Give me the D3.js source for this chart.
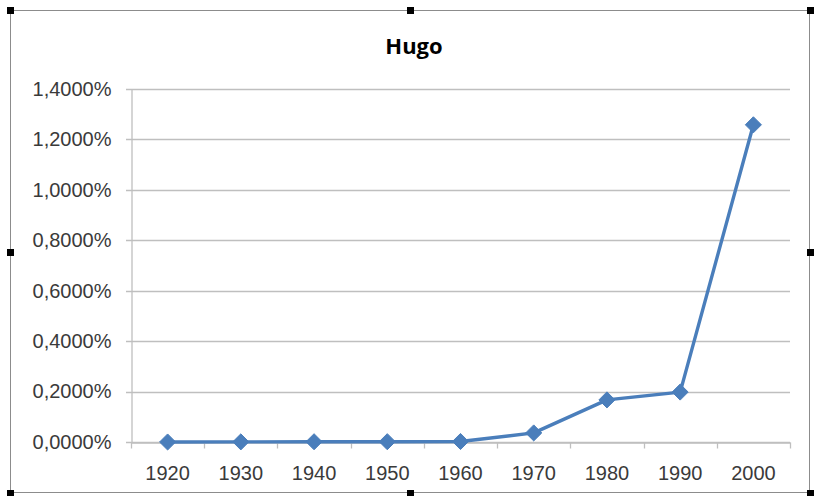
<!DOCTYPE html>
<html>
<head>
<meta charset="utf-8">
<script src="https://cdn.jsdelivr.net/npm/d3@7"></script>
<style>
  body { margin: 0; background: #fff; }
  svg { display: block; font-family: "Open Sans", "Liberation Sans", sans-serif; }
</style>
</head>
<body>
<script>
var w = 816;
var h = 496;

// data (values in percent)
var years = ["1920", "1930", "1940", "1950", "1960", "1970", "1980", "1990", "2000"];
var shares = [0.0000, 0.0005, 0.0010, 0.0012, 0.0020, 0.0360, 0.1670, 0.1980, 1.2580];
var yTicks = [0, 0.2, 0.4, 0.6, 0.8, 1.0, 1.2, 1.4];
var title = "Hugo";

var margin = {left: 131, right: 26, top: 89, bottom: 54};

var svg = d3.select("body")
            .append("svg")
            .attr("width", w)
            .attr("height", h);

// chart frame
svg.append("rect")
   .attr("x", 10.5).attr("y", 10.5)
   .attr("width", 799).attr("height", 482)
   .style("fill", "#fff")
   .style("stroke", "#8c8c8c")
   .style("stroke-width", 1);

// selection handles
[[10, 10], [410, 10], [810, 10], [10, 252], [810, 252], [10, 493], [410, 493], [810, 493]].forEach(function(p) {
  svg.append("rect")
     .attr("x", p[0] - 3).attr("y", p[1] - 3)
     .attr("width", 7).attr("height", 7)
     .style("fill", "#000");
});

var x = d3.scaleBand()
          .domain(years)
          .range([margin.left, w - margin.right]);

var y = d3.scaleLinear()
          .domain([0, 1.4])
          .range([h - margin.bottom, margin.top]);

// gridlines
svg.append("g")
   .selectAll("line")
   .data(yTicks)
   .enter()
   .append("line")
   .attr("x1", margin.left - 5)
   .attr("x2", w - margin.right)
   .attr("y1", function(d) { return Math.round(y(d)) + 0.5; })
   .attr("y2", function(d) { return Math.round(y(d)) + 0.5; })
   .style("stroke", "#bfbfbf")
   .style("stroke-width", 1.3);

// y axis
var fmt = function(d) { return d3.format(".4f")(d).replace(".", ",") + "%"; };
var yAxis = svg.append("g")
   .attr("transform", "translate(" + (margin.left + 0.5) + ",0)")
   .call(d3.axisLeft(y).tickValues(yTicks).tickFormat(fmt).tickSize(0).tickPadding(20));
yAxis.select(".domain").style("stroke", "#bfbfbf").style("stroke-width", 1.3);
yAxis.selectAll("text").style("font-size", "20px").style("fill", "#3a3a3a");

// x axis
var xAxis = svg.append("g")
   .attr("transform", "translate(0," + (Math.round(y(0)) + 0.5) + ")")
   .call(d3.axisBottom(x).tickSize(0).tickPadding(23));
xAxis.select(".domain").style("stroke", "#bfbfbf").style("stroke-width", 1.3);
xAxis.selectAll("text").style("font-size", "20px").style("fill", "#3a3a3a");

// category boundary ticks
var bounds = years.map(function(d) { return x(d); }).concat([x(years[years.length - 1]) + x.bandwidth()]);
xAxis.selectAll(".bound")
     .data(bounds)
     .enter()
     .append("line")
     .attr("class", "bound")
     .attr("x1", function(d) { return Math.round(d) + 0.5; })
     .attr("x2", function(d) { return Math.round(d) + 0.5; })
     .attr("y1", 0).attr("y2", 6)
     .style("stroke", "#bfbfbf")
     .style("stroke-width", 1.3);

// line
var cx = function(d, i) { return x(years[i]) + x.bandwidth() / 2; };
var line = d3.line()
             .x(cx)
             .y(function(d) { return y(d); });

svg.append("path")
   .datum(shares)
   .attr("d", line)
   .style("fill", "none")
   .style("stroke", "#4a7ebb")
   .style("stroke-width", 3.4)
   .style("stroke-linejoin", "round");

// diamond markers
svg.selectAll(".marker")
   .data(shares)
   .enter()
   .append("path")
   .attr("class", "marker")
   .attr("d", d3.symbol().type(d3.symbolDiamond2).size(165))
   .attr("transform", function(d, i) { return "translate(" + cx(d, i) + "," + y(d) + ")"; })
   .style("fill", "#4a7ebb")
   .style("stroke", "#4a7ebb")
   .style("stroke-width", 1);

// title
svg.append("text")
   .attr("x", 414)
   .attr("y", 54)
   .attr("text-anchor", "middle")
   .style("font-size", "22px")
   .style("font-weight", "bold")
   .style("fill", "#000")
   .text(title);
</script>
</body>
</html>
